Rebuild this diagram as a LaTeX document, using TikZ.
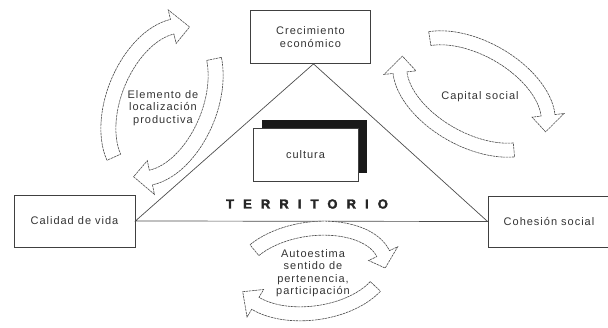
\documentclass[tikz,border=0pt]{standalone}
\usepackage{fontspec}
\setmainfont{Liberation Sans}
\newfontfamily\caixafont[LetterSpace=9]{Liberation Sans}
\newfontfamily\titulofont[LetterSpace=70, FakeBold=2.5]{Liberation Sans Bold}
\usetikzlibrary{backgrounds}

% seta curva oca sobre a elipse (\ea,\eb): angulo inicial, angulo da ponta, meia largura
\newcommand{\setaciclo}[3]{%
  \filldraw[setacurva] plot[domain=#1:#2+20, samples=30] ({ox(\x,#3)},{oy(\x,#3)})
    -- ({ox(#2+20,2.3*#3)},{oy(#2+20,2.3*#3)}) -- ({ox(#2,0)},{oy(#2,0)})
    -- ({ox(#2+20,-2.3*#3)},{oy(#2+20,-2.3*#3)})
    -- plot[domain=#2+20:#1, samples=30] ({ox(\x,-#3)},{oy(\x,-#3)}) -- cycle;}

\begin{document}
\begin{tikzpicture}[
        x=1pt, y=1pt,
        declare function={nrm(\t)=sqrt((\eb*cos(\t))^2+(\ea*sin(\t))^2);
          ox(\t,\h)=\ea*cos(\t)+\h*\eb*cos(\t)/nrm(\t);
          oy(\t,\h)=\eb*sin(\t)+\h*\ea*sin(\t)/nrm(\t);},
        caixa/.style={draw=black!75, line width=0.8pt, minimum width=120pt, minimum height=53pt, inner sep=2pt, align=center, font=\caixafont\fontsize{11}{13}\selectfont, text=black!80},
        lado/.style={draw=black!70, line width=0.7pt},
        setacurva/.style={draw=black!70, fill=white, line width=0.6pt, dash pattern=on 2.5pt off 0.7pt},
        rotulo/.style={align=center, inner sep=1pt, font=\caixafont\fontsize{11}{12.5}\selectfont, text=black!80}
        ]
        \useasboundingbox (0,0) rectangle (608,-328);

        \node [caixa] (crecimiento) at (310.5,-37) {Crecimiento\\económico};
        \node [caixa, minimum width=121pt, minimum height=52pt] (calidad) at (74.5,-221) {Calidad de vida};
        \node [caixa, minimum width=122pt, minimum height=51pt] (cohesion) at (549,-221.5) {Cohesión social};
        \node [caixa, fill=white, minimum width=105pt, minimum height=53pt] (cultura) at (305.5,-154.5) {cultura};
        \begin{scope}[on background layer]
        \fill[black!90] ([shift={(9,8)}]cultura.south west) rectangle ([shift={(9,8)}]cultura.north east);
        \end{scope}

        \draw[lado] (calidad.east) -- ([xshift=3]crecimiento.south) -- (cohesion.west) -- cycle;
        \node [font=\titulofont\fontsize{13}{14}\selectfont, text=black!85] (territorio) at (307,-204) {TERRITORIO};

        \begin{scope}[shift={(162,-102)}, rotate=68] % ciclo da esquerda
        \def\ea{80}\def\eb{48}
        \setaciclo{150}{3}{7.5}
        \setaciclo{-42}{-178}{7.5}
        \end{scope}
        \begin{scope}[shift={(474,-94)}, rotate=-29] % ciclo da direita
        \def\ea{81}\def\eb{46}
        \setaciclo{144}{2}{7}
        \setaciclo{-40}{-178}{7}
        \end{scope}
        \begin{scope}[shift={(312,-271)}, rotate=8] % ciclo de baixo
        \def\ea{74}\def\eb{42}
        \setaciclo{137}{-10}{7}
        \setaciclo{-35}{-165}{7}
        \end{scope}

        \node [rotulo] (localizacion) at (163,-108) {Elemento de\\localización\\productiva};
        \node [rotulo] (capital) at (480,-97) {Capital social};
        \node [rotulo] (autoestima) at (313,-273) {Autoestima\\sentido de\\pertenencia,\\participación};
    \end{tikzpicture}
\end{document}
